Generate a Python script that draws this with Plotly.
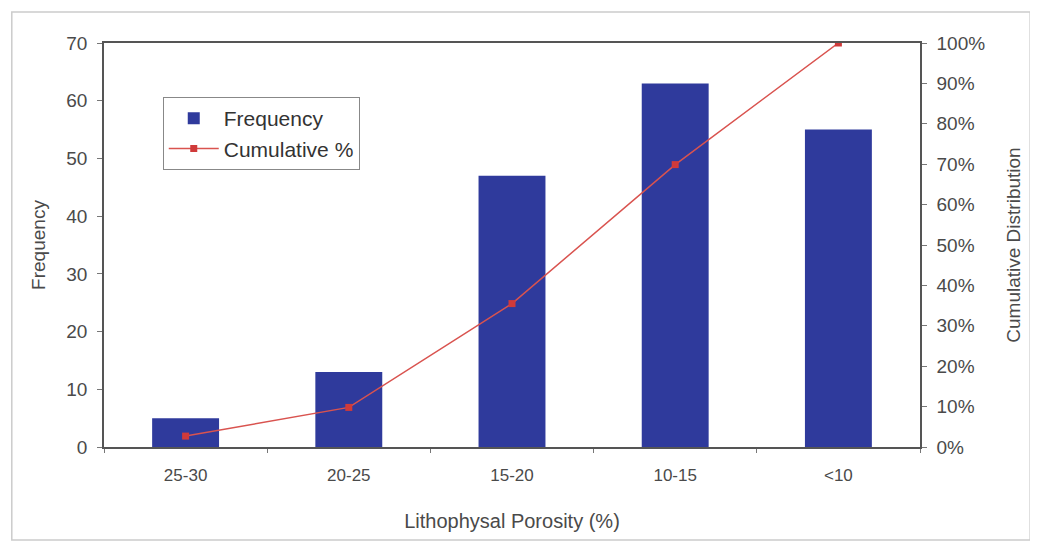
import plotly.graph_objects as go

# data
categories = ["25-30", "20-25", "15-20", "10-15", "<10"]
frequency = [5, 13, 47, 63, 55]
cumulative_pct = [2.7, 9.8, 35.5, 69.9, 100.0]

fig = go.Figure()

fig.add_trace(go.Bar(
    x=categories, y=frequency, name="Frequency",
    marker=dict(color="#2f3a9c", line=dict(width=0)),
    width=0.41,
))
fig.add_trace(go.Scatter(
    x=categories, y=cumulative_pct, name="Cumulative %", yaxis="y2",
    mode="lines+markers",
    line=dict(color="#d9534f", width=1.5),
    marker=dict(symbol="square", size=7, color="#d03a3a"),
))

txt = "#4a4a4a"
base_font = dict(family="Liberation Sans, Arial, sans-serif", size=18, color=txt)

# page body has an 8px margin, so the margins are shifted by that
fig.update_layout(
    width=1038, height=550,
    margin=dict(l=96, r=126, t=35, b=111),
    paper_bgcolor="white", plot_bgcolor="white",
    font=base_font,
    showlegend=True,
    legend=dict(
        x=0.072, y=0.866, xanchor="left", yanchor="top",
        bgcolor="white", bordercolor="#888", borderwidth=1,
        font=dict(size=21, color="#333"), tracegroupgap=4,
        itemwidth=50,
    ),
    xaxis=dict(
        showline=True, linecolor="#555", linewidth=1.5, mirror=True,
        ticks="outside", tickson="boundaries", ticklen=4, tickcolor="#777",
        tickfont=dict(size=17, color=txt), showgrid=False, ticklabelstandoff=12,
        title=dict(text="Lithophysal Porosity (%)", font=dict(size=20, color=txt), standoff=30),
    ),
    yaxis=dict(
        range=[0, 70], dtick=10, showline=True, linecolor="#555", linewidth=1.5,
        ticks="outside", ticklen=5, tickcolor="#777", showgrid=False, zeroline=False,
        tickfont=dict(size=19, color=txt), ticklabelstandoff=6,
        title=dict(text="Frequency", font=dict(size=19, color=txt), standoff=16),
    ),
    yaxis2=dict(
        range=[0, 100], dtick=10, ticksuffix="%", overlaying="y", side="right",
        showline=True, linecolor="#555", linewidth=1.5,
        ticks="outside", ticklen=5, tickcolor="#777", showgrid=False, zeroline=False,
        tickfont=dict(size=19, color=txt), ticklabelstandoff=6,
        title=dict(text="Cumulative Distribution", font=dict(size=19, color=txt), standoff=22),
    ),
)

# light outer frame round the chart area
fig.add_shape(type="rect", xref="paper", yref="paper",
              x0=-0.113, x1=1.135, y0=-0.23, y1=1.077,
              line=dict(color="#ccc", width=1.5), layer="below")

fig.write_html("out.html")
